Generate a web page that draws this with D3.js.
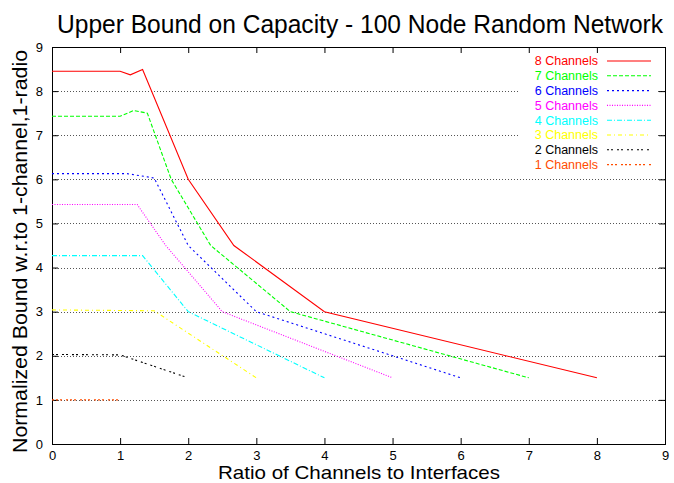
<!DOCTYPE html>
<html>
<head>
<meta charset="utf-8">
<script src="https://cdn.jsdelivr.net/npm/d3@7"></script>
<style>
  body { margin: 0; background: #fff; }
  svg { display: block; font-family: "Liberation Sans", Arial, sans-serif; }
</style>
</head>
<body>
<div id="chart"></div>
<script>
// data: [ratio, normalized bound]
const ch8 = [[0, 8.45], [1, 8.45], [1.15, 8.37], [1.33, 8.49], [2, 6], [2.67, 4.5], [4, 3], [8, 1.5]];
const ch7 = [[0, 7.43], [1, 7.43], [1.2, 7.56], [1.4, 7.5], [1.75, 6], [2.33, 4.5], [3.5, 3], [7, 1.5]];
const ch6 = [[0, 6.13], [1.1, 6.13], [1.5, 6.03], [2, 4.5], [3, 3], [6, 1.5]];
const ch5 = [[0, 5.43], [1.25, 5.43], [1.67, 4.5], [2.5, 3], [5, 1.5]];
const ch4 = [[0, 4.27], [1.33, 4.27], [2, 3], [4, 1.5]];
const ch3 = [[0, 3.04], [1.5, 3.02], [3, 1.5]];
const ch2 = [[0, 2.03], [1, 2.02], [2, 1.5]];
const ch1 = [[0, 1], [1, 1]];

const seriesNames = ['8 Channels', '7 Channels', '6 Channels', '5 Channels',
                     '4 Channels', '3 Channels', '2 Channels', '1 Channels'];
const seriesData = [ch8, ch7, ch6, ch5, ch4, ch3, ch2, ch1];
const colors = ['#ff0000', '#00ff00', '#0000ff', '#ff00ff', '#00ffff', '#ffff00', '#000000', '#ff4d00'];
// gnuplot postscript dash types
const dashes = [null, '4,2', '2,3', '1,1.5', '5,2,1,2', '4,3,1,3', '2,2,2,4', '2,2,2,2,2,4'];

const xTicks = d3.range(0, 10);
const yTicks = d3.range(0, 10);

const W = 674, H = 483;
const margin = { top: 47, right: 9, bottom: 39, left: 52 };
const width = W - margin.left - margin.right,
      height = H - margin.top - margin.bottom;

const svg = d3.select('#chart').append('svg')
  .attr('width', W).attr('height', H);

const g = svg.append('g').attr('transform', `translate(${margin.left},${margin.top})`);

const x = d3.scaleLinear().domain([0, 9]).range([0, width]);
const y = d3.scaleLinear().domain([0, 9]).range([height, 0]);

// horizontal grid
g.append('g')
  .selectAll('line')
  .data(yTicks.filter(d => d > 0 && d < 9))
  .enter().append('line')
  .attr('x1', 0).attr('x2', width)
  .attr('y1', d => Math.round(y(d)) + 0.5).attr('y2', d => Math.round(y(d)) + 0.5)
  .attr('stroke', '#555')
  .attr('stroke-dasharray', '1,2');

// key background covers the grid
const legX = 546, legY = 14;   // relative to plot
g.append('rect')
  .attr('x', legX - 80).attr('y', legY - 8)
  .attr('width', 140).attr('height', 122)
  .attr('fill', '#fff');

// axes, ticks inward on all four sides
const tickLen = 6;
g.append('g')
  .attr('transform', `translate(0,${height})`)
  .call(d3.axisBottom(x).tickValues(xTicks).tickSize(-tickLen).tickPadding(tickLen + 1).tickFormat(d3.format('d')));
g.append('g')
  .call(d3.axisTop(x).tickValues(xTicks).tickSize(-tickLen).tickFormat(''));
g.append('g')
  .call(d3.axisLeft(y).tickValues(yTicks).tickSize(-tickLen).tickPadding(tickLen + 3).tickFormat(d3.format('d')));
g.append('g')
  .attr('transform', `translate(${width},0)`)
  .call(d3.axisRight(y).tickValues(yTicks).tickSize(-tickLen).tickFormat(''));

g.selectAll('.domain').remove();
g.selectAll('.tick text').style('font-size', '13px').style('fill', '#000')
  .style('font-family', '"Liberation Sans", Arial, sans-serif');
g.selectAll('.tick line').attr('stroke', '#000');

g.append('rect')
  .attr('x', 0.5).attr('y', 0.5)
  .attr('width', width).attr('height', height)
  .attr('fill', 'none').attr('stroke', '#000');

// lines
const line = d3.line().x(d => x(d[0])).y(d => y(d[1]));
g.append('g')
  .selectAll('path')
  .data(seriesData)
  .enter().append('path')
  .attr('d', line)
  .attr('fill', 'none')
  .attr('stroke', (d, i) => colors[i])
  .attr('stroke-width', 1.1)
  .attr('stroke-dasharray', (d, i) => dashes[i]);

// legend
const leg = g.append('g').selectAll('g')
  .data(seriesNames)
  .enter().append('g')
  .attr('transform', (d, i) => `translate(${legX},${legY + i * 14.8})`);
leg.append('text')
  .attr('text-anchor', 'end')
  .attr('dy', '0.35em')
  .style('font-size', '12.5px')
  .style('fill', (d, i) => colors[i])
  .text(d => d);
leg.append('line')
  .attr('x1', 9).attr('x2', 53)
  .attr('stroke', (d, i) => colors[i])
  .attr('stroke-width', 1.1)
  .attr('stroke-dasharray', (d, i) => dashes[i]);

// titles (gnuplot's font is a bit narrower and taller, so stretch to the same width)
svg.append('text')
  .attr('x', 360)
  .attr('y', 33)
  .attr('text-anchor', 'middle')
  .attr('textLength', 606)
  .attr('lengthAdjust', 'spacingAndGlyphs')
  .style('font-size', '25px')
  .text('Upper Bound on Capacity - 100 Node Random Network');

svg.append('text')
  .attr('x', 359)
  .attr('y', 479)
  .attr('text-anchor', 'middle')
  .attr('textLength', 282)
  .attr('lengthAdjust', 'spacingAndGlyphs')
  .style('font-size', '18.5px')
  .text('Ratio of Channels to Interfaces');

svg.append('text')
  .attr('transform', `translate(27,251.5) rotate(-90)`)
  .attr('text-anchor', 'middle')
  .attr('textLength', 403)
  .attr('lengthAdjust', 'spacingAndGlyphs')
  .style('font-size', '20.5px')
  .text('Normalized Bound w.r.to 1-channel,1-radio');
</script>
</body>
</html>
